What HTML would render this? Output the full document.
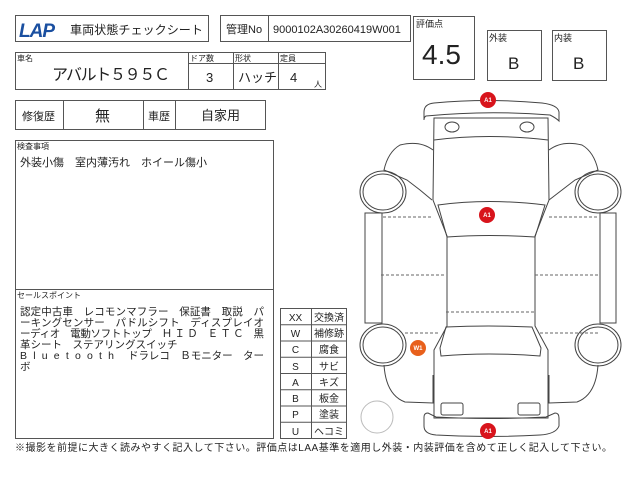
<!DOCTYPE html>
<html><head><meta charset="utf-8"><style>
html,body{margin:0;padding:0;background:#fff;}
svg{display:block;}
text{font-family:"Liberation Sans","Noto Sans CJK JP",sans-serif;fill:#222;}
</style></head><body>
<svg width="640" height="480" viewBox="0 0 640 480" xmlns="http://www.w3.org/2000/svg">
<g fill="none" stroke="#555" stroke-width="1">
<rect x="15.5" y="15.5" width="193" height="26"/>
<rect x="220.5" y="15.5" width="190" height="26"/>
<line x1="268.5" y1="15" x2="268.5" y2="41"/>
<rect x="15.5" y="52.5" width="310" height="37"/>
<line x1="188.5" y1="52" x2="188.5" y2="90"/>
<line x1="233.5" y1="52" x2="233.5" y2="90"/>
<line x1="278.5" y1="52" x2="278.5" y2="90"/>
<line x1="188" y1="63.5" x2="325" y2="63.5"/>
<rect x="15.5" y="100.5" width="250" height="29"/>
<line x1="63.5" y1="100" x2="63.5" y2="130"/>
<line x1="143.5" y1="100" x2="143.5" y2="130"/>
<line x1="175.5" y1="100" x2="175.5" y2="130"/>
<rect x="15.5" y="140.5" width="258" height="298"/>
<line x1="15" y1="289.5" x2="273" y2="289.5"/>
<rect x="413.5" y="16.5" width="61" height="63"/>
<rect x="487.5" y="30.5" width="54" height="50"/>
<rect x="552.5" y="30.5" width="54" height="50"/>
<rect x="280.5" y="308.5" width="66" height="130"/>
<line x1="311.5" y1="308" x2="311.5" y2="438"/>
<line x1="280" y1="324.75" x2="346" y2="324.75"/>
<line x1="280" y1="341" x2="346" y2="341"/>
<line x1="280" y1="357.25" x2="346" y2="357.25"/>
<line x1="280" y1="373.5" x2="346" y2="373.5"/>
<line x1="280" y1="389.75" x2="346" y2="389.75"/>
<line x1="280" y1="406" x2="346" y2="406"/>
<line x1="280" y1="422.25" x2="346" y2="422.25"/>
</g>
<text x="19" y="37" font-size="19" font-weight="bold" font-style="italic" style="fill:#1a4fa0" letter-spacing="-1">LAP</text>
<text x="70" y="34" font-size="12" textLength="133" lengthAdjust="spacingAndGlyphs">車両状態チェックシート</text>
<text x="226" y="33" font-size="11">管理No</text>
<text x="273" y="33" font-size="11">9000102A30260419W001</text>
<text x="17" y="61" font-size="8">車名</text>
<text x="52" y="80" font-size="16" textLength="118">アバルト５９５Ｃ</text>
<text x="190" y="61" font-size="8">ドア数</text>
<text x="235" y="61" font-size="8">形状</text>
<text x="280" y="61" font-size="8">定員</text>
<text x="206" y="82" font-size="13">3</text>
<text x="238" y="82" font-size="13">ハッチ</text>
<text x="290" y="82" font-size="13">4</text>
<text x="314" y="87" font-size="8">人</text>
<text x="22" y="120" font-size="11">修復歴</text>
<text x="95" y="121" font-size="15">無</text>
<text x="148" y="120" font-size="11">車歴</text>
<text x="201" y="120" font-size="13">自家用</text>
<text x="416" y="27" font-size="9">評価点</text>
<text x="422" y="64" font-size="28">4.5</text>
<text x="489" y="41" font-size="9">外装</text>
<text x="508" y="69" font-size="17">B</text>
<text x="554" y="41" font-size="9">内装</text>
<text x="573" y="69" font-size="17">B</text>
<text x="17" y="149" font-size="8">検査事項</text>
<text x="20" y="166" font-size="11">外装小傷　室内薄汚れ　ホイール傷小</text>
<text x="17" y="298" font-size="8">セールスポイント</text>
<g font-size="10.5">
<text x="20" y="315" textLength="244">認定中古車　レコモンマフラー　保証書　取説　パ</text>
<text x="20" y="326" textLength="244">ーキングセンサー　パドルシフト　ディスプレイオ</text>
<text x="20" y="337" textLength="244">ーディオ　電動ソフトトップ　Ｈ Ｉ Ｄ　Ｅ Ｔ Ｃ　黒</text>
<text x="20" y="348">革シート　ステアリングスイッチ</text>
<text x="20" y="359" textLength="94">Bluetooth</text>
<text x="128" y="359" textLength="136">ドラレコ　Ｂモニター　ター</text>
<text x="20" y="370">ボ</text>
</g>
<g font-size="10">
<text x="295.5" y="321" text-anchor="middle">XX</text><text x="329" y="321" text-anchor="middle">交換済</text>
<text x="295.5" y="337" text-anchor="middle">W</text><text x="329" y="337" text-anchor="middle">補修跡</text>
<text x="295.5" y="353" text-anchor="middle">C</text><text x="329" y="353" text-anchor="middle">腐食</text>
<text x="295.5" y="370" text-anchor="middle">S</text><text x="329" y="370" text-anchor="middle">サビ</text>
<text x="295.5" y="386" text-anchor="middle">A</text><text x="329" y="386" text-anchor="middle">キズ</text>
<text x="295.5" y="402" text-anchor="middle">B</text><text x="329" y="402" text-anchor="middle">板金</text>
<text x="295.5" y="418" text-anchor="middle">P</text><text x="329" y="418" text-anchor="middle">塗装</text>
<text x="295.5" y="435" text-anchor="middle">U</text><text x="329" y="435" text-anchor="middle">ヘコミ</text>
</g>
<text x="15" y="451" font-size="10" textLength="597">※撮影を前提に大きく読みやすく記入して下さい。評価点はLAA基準を適用し外装・内装評価を含めて正しく記入して下さい。</text>
<!-- car -->
<g fill="none" stroke="#444" stroke-width="1">
<path d="M424,112 Q424,104 434,103 Q488,98 542,103 Q558,105 559,112 L559,121 Q556,118 550,115 Q488,110 426,116 Q424,117 424,120 Z"/>
<path d="M434,118 L548,118 L549,200 L535,236 L535,326 L548,350 L548,418 L434,418 L434,350 L447,326 L447,236 L433,200 Z"/>
<path d="M434,140 Q488,133 548,140"/>
<ellipse cx="452" cy="127" rx="7" ry="5"/><ellipse cx="527" cy="127" rx="7" ry="5"/>
<path d="M438,205 Q488,198 545,205 L535,237 Q488,234 447,237 Z"/>
<path d="M446,327 Q488,325 532,327 L541,348 L540,356 Q488,352 441,356 L440,348 Z"/>
<rect x="441" y="403" width="22" height="12" rx="2"/><rect x="518" y="403" width="22" height="12" rx="2"/>
<path d="M424,417 Q424,413 428,413 L436,417 Q488,420 546,417 L555,413 Q559,413 559,418 L559,426 Q556,434 540,435 Q488,438 436,435 Q424,434 424,426 Z"/>
<path d="M433,150 Q420,140 400,145 Q388,152 384,170 L407,180 L420,190 L432,200"/>
<path d="M549,150 Q562,140 582,145 Q594,152 598,170 L575,180 L562,190 L549,200"/>
<ellipse cx="383" cy="192" rx="23" ry="21"/><ellipse cx="383" cy="192" rx="20" ry="18"/>
<ellipse cx="598" cy="192" rx="23" ry="21"/><ellipse cx="598" cy="192" rx="20" ry="18"/>
<ellipse cx="383" cy="345" rx="23" ry="21"/><ellipse cx="383" cy="345" rx="20" ry="18"/>
<ellipse cx="598" cy="345" rx="23" ry="21"/><ellipse cx="598" cy="345" rx="20" ry="18"/>
<rect x="365" y="213" width="17" height="110"/>
<rect x="600" y="213" width="16" height="110"/>
<path d="M384,365 Q386,395 405,402 L433,403 L433,375"/>
<path d="M598,365 Q596,395 577,402 L549,403 L549,375"/>
<circle cx="377" cy="417" r="16" stroke="#bbb"/>
</g>
<g stroke="#666" stroke-width="1" stroke-dasharray="3,2">
<line x1="383" y1="217" x2="433" y2="217"/><line x1="549" y1="217" x2="598" y2="217"/>
<line x1="381" y1="275" x2="446" y2="275"/><line x1="535" y1="275" x2="600" y2="275"/>
<line x1="446" y1="312" x2="535" y2="312"/>
<line x1="405" y1="333" x2="440" y2="333"/><line x1="540" y1="333" x2="598" y2="333"/>
</g>
<g font-size="6" font-weight="bold" text-anchor="middle">
<circle cx="488" cy="100" r="8" fill="#d8141c"/><text x="488" y="102" style="fill:#fff">A1</text>
<circle cx="487" cy="215" r="8" fill="#d8141c"/><text x="487" y="217" style="fill:#fff">A1</text>
<circle cx="488" cy="431" r="8" fill="#d8141c"/><text x="488" y="433" style="fill:#fff">A1</text>
<circle cx="418" cy="348" r="8" fill="#e8601c"/><text x="418" y="350" style="fill:#fff">W1</text>
</g>
</svg>
</body></html>
